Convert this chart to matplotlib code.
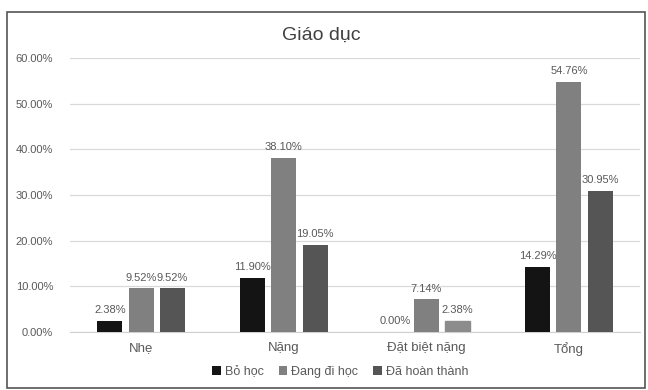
import numpy as np
import matplotlib.pyplot as plt
from matplotlib.patches import Rectangle

plt.rcParams['font.family'] = ['Liberation Sans', 'DejaVu Sans']

# Dữ liệu
categories = ['Nhẹ', 'Nặng', 'Đặt biệt nặng', 'Tổng']
series_names = ['Bỏ học', 'Đang đi học', 'Đã hoàn thành']
bo_hoc = [2.38, 11.90, 0.00, 14.29]
dang_di_hoc = [9.52, 38.10, 7.14, 54.76]
da_hoan_thanh = [9.52, 19.05, 2.38, 30.95]
y_ticks = [0, 10, 20, 30, 40, 50, 60]

values = [bo_hoc, dang_di_hoc, da_hoan_thanh]
colors = ['#141414', '#808080', '#555555']
txt = '#595959'

fig = plt.figure(figsize=(6.48, 3.9), dpi=100)
ax = fig.add_axes([0.108, 0.149, 0.88, 0.702])

x = np.arange(len(categories))
w = 0.175
step = 0.22
for i, (vals, c, name) in enumerate(zip(values, colors, series_names)):
    bars = ax.bar(x + (i - 1) * step, vals, w, color=c, label=name, zorder=3)
    for b, v in zip(bars, vals):
        ax.annotate(f'{v:.2f}%', (b.get_x() + b.get_width() / 2, v),
                    xytext=(0, 4), textcoords='offset points',
                    ha='center', va='bottom', fontsize=8, color=txt)
# thanh 2.38% của "Đặt biệt nặng" nhạt hơn trong ảnh gốc
ax.patches[2 * len(categories) + 2].set_color('#8c8c8c')

ax.set_xlim(-0.5, len(categories) - 0.5)
ax.set_ylim(0, 60)
ax.set_yticks(y_ticks)
ax.set_yticklabels([f'{t:.2f}%' for t in y_ticks], fontsize=8, color=txt)
ax.set_xticks(x)
ax.set_xticklabels(categories, fontsize=9.5, color=txt)
ax.tick_params(length=0, pad=7)
ax.tick_params(axis='y', pad=12)
ax.yaxis.grid(True, color='#d9d9d9', linewidth=0.9, zorder=0)
for s in ['top', 'right', 'left']:
    ax.spines[s].set_visible(False)
ax.spines['bottom'].set_color('#d0d0d0')

fig.text(0.495, 0.91, 'Giáo dục', ha='center', va='center', fontsize=14, color='#404040')
fig.legend(loc='center', bbox_to_anchor=(0.525, 0.047), ncol=3, frameon=False,
           fontsize=9, handlelength=0.7, handleheight=0.7, handletextpad=0.3,
           columnspacing=1.2, labelcolor=txt)

fig.patches.append(Rectangle((0.011, 0.005), 0.984, 0.965, transform=fig.transFigure,
                             fill=False, edgecolor='#555555', linewidth=1.2))

fig.savefig('out.png', dpi=100)
